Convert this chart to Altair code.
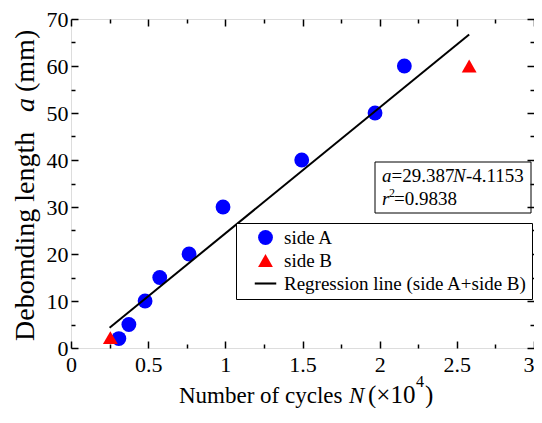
import altair as alt
import pandas as pd

# ---- data ----
n_side_a = [0.31, 0.375, 0.48, 0.575, 0.765, 0.985, 1.495, 1.97, 2.16]
a_side_a = [2, 5, 10, 15, 20, 30, 40, 50, 60]
n_side_b = [0.255, 2.58]
a_side_b = [2.2, 60]
n_regression = [0.25, 2.58]
a_regression = [4.3, 66.7]
series_names = ["side A", "side B", "Regression line (side A+side B)"]
series_colors = ["#0000ff", "#ff0000", "#000000"]
x_major = [i * 0.5 for i in range(7)]
x_minor = [0.25 + i * 0.5 for i in range(6)]
y_major = list(range(0, 71, 10))
y_minor = list(range(5, 70, 10))

FONT = "Liberation Serif"
W, H = 463, 329
TOP = 11

df_pts = pd.DataFrame({
    "N": n_side_a + n_side_b,
    "a": a_side_a + a_side_b,
    "series": ["side A"] * len(n_side_a) + ["side B"] * len(n_side_b),
})
df_reg = pd.DataFrame({"N": n_regression, "a": a_regression})

xs = alt.Scale(domain=[0, 3], nice=False, zero=False)
ys = alt.Scale(domain=[0, 70], nice=False, zero=False)


def tick_axis(orient, offset, values, size):
    return alt.Axis(orient=orient, offset=offset, values=values, labels=False,
                    domain=False, grid=False, ticks=True, tickSize=size,
                    tickColor="black", tickWidth=1.5, title=None)


base = alt.Chart(df_pts)

# labelled axes
axes_labels = base.mark_point(opacity=0).encode(
    x=alt.X("N:Q", scale=xs, axis=alt.Axis(
        orient="bottom", values=x_major, format="~g", ticks=False, domain=False, grid=False,
        labelFont=FONT, labelFontSize=22, labelColor="black", labelPadding=6,
        labelFlush=False, title=None,
        labelAlign={"condition": {"test": "datum.value >= 3", "value": "right"}, "value": "center"})),
    y=alt.Y("a:Q", scale=ys, axis=alt.Axis(
        orient="left", values=y_major, format="d", ticks=False, domain=False, grid=False,
        labelFont=FONT, labelFontSize=22, labelColor="black", labelPadding=3,
        labelFlush=False, title=None)),
)


def tick_layer(x_orient, x_off, y_orient, y_off, xv, yv, size):
    return base.mark_point(opacity=0).encode(
        x=alt.X("N:Q", scale=xs, axis=tick_axis(x_orient, x_off, xv, size)),
        y=alt.Y("a:Q", scale=ys, axis=tick_axis(y_orient, y_off, yv, size)),
    )


# inward ticks: an axis of the opposite orient, moved onto the edge with a negative offset
tick_layers = [
    tick_layer("top", -H, "right", -W, x_major, y_major, 7),
    tick_layer("top", -H, "right", -W, x_minor, y_minor, 4),
    tick_layer("bottom", -H, "left", -W, x_major, y_major, 7),
    tick_layer("bottom", -H, "left", -W, x_minor, y_minor, 4),
]

legend = alt.Legend(title=None, orient="none", legendX=165, legendY=204,
                    strokeColor="black", fillColor="white", padding=5,
                    symbolSize=220, symbolStrokeWidth=0, symbolOffset=15,
                    labelFont=FONT, labelFontSize=19, labelColor="black",
                    labelOffset=9, labelLimit=400, rowPadding=3)

points = base.mark_point(filled=True, size=220, opacity=1, strokeWidth=0).encode(
    x=alt.X("N:Q", scale=xs, axis=None),
    y=alt.Y("a:Q", scale=ys, axis=None),
    color=alt.Color("series:N", scale=alt.Scale(domain=series_names, range=series_colors),
                    legend=legend),
    shape=alt.Shape("series:N", scale=alt.Scale(
        domain=series_names,
        range=["circle", "triangle-up", "M-1.45,-0.14L1.45,-0.14L1.45,0.14L-1.45,0.14Z"]),
        legend=legend),
)

reg_line = alt.Chart(df_reg).mark_line(color="black", strokeWidth=2).encode(
    x=alt.X("N:Q", scale=xs, axis=None),
    y=alt.Y("a:Q", scale=ys, axis=None),
)


def txt(s, x, y, size, italic=False, angle=0, align="left", baseline="alphabetic"):
    return alt.Chart(pd.DataFrame({"t": [s]})).mark_text(
        font=FONT, fontSize=size, fontStyle="italic" if italic else "normal",
        angle=angle, align=align, baseline=baseline, color="black",
    ).encode(x=alt.value(x), y=alt.value(y), text="t:N")


eq_box = alt.Chart(pd.DataFrame({"t": [0]})).mark_rect(
    fillOpacity=0, stroke="black", strokeWidth=1
).encode(x=alt.value(304), x2=alt.value(460), y=alt.value(143), y2=alt.value(194))

texts = [
    # equation box
    txt("a", 311, 163, 19, italic=True),
    txt("=29.387", 320.5, 163, 19),
    txt("N", 382, 163, 19, italic=True),
    txt("-4.1153", 395, 163, 19),
    txt("r", 311, 186, 19, italic=True),
    txt("2", 318, 178, 12),
    txt("=0.9838", 323, 186, 19),
    # y title
    txt("Debomding length", -37, 322, 28, angle=270),
    txt("a", -37, 93, 28, italic=True, angle=270),
    txt("(mm)", -37, 73, 28, angle=270),
    # x title
    txt("Number of cycles", 108, 384, 23),
    txt("N", 278, 384, 23, italic=True),
    txt("(\u00d710", 297, 384, 25),
    txt("4", 345, 368, 16),
    txt(")", 354, 384, 25),
]

chart = alt.layer(axes_labels, *tick_layers, points, reg_line, eq_box, *texts).properties(
    width=W, height=H,
    padding={"left": 63, "top": TOP, "right": 0, "bottom": 60},
    autosize=alt.AutoSizeParams(type="none"),
).resolve_axis(x="independent", y="independent").configure_view(
    stroke="black", strokeWidth=2
).configure(background="white")

chart.save("out.html", embed_options={"renderer": "svg", "actions": False})
